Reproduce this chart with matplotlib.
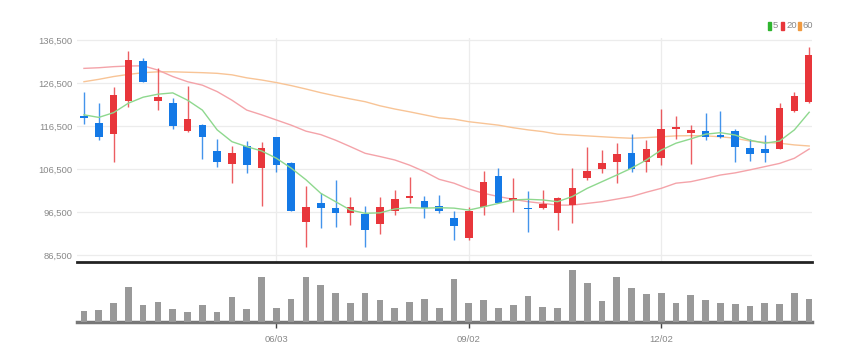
import matplotlib.pyplot as plt
from matplotlib.patches import Rectangle
import numpy as np

plt.rcParams['font.family'] = ['Liberation Sans', 'DejaVu Sans']

# weekly candles (won)
opens = [118800, 117300, 114600, 122200, 131600, 122200, 121900, 115300, 116700, 110700,
         107700, 111900, 106700, 113900, 108000, 94250, 98500, 97500, 96200, 96000,
         93700, 96800, 99700, 99100, 98000, 95200, 90500, 97600, 104900, 99300,
         97500, 97400, 96200, 98200, 104500, 106500, 108100, 110150, 108100, 109000,
         115700, 114800, 115400, 114400, 115300, 111300, 111150, 111150, 120050, 122000]
highs = [124300, 121800, 125500, 133900, 132200, 129900, 122900, 125900, 116900, 113500,
         111800, 113000, 112700, 114000, 108100, 102500, 100850, 103900, 99900, 98000,
         100100, 101600, 104600, 100300, 100450, 96800, 97700, 106000, 106700, 104350,
         101400, 101600, 100000, 106700, 111700, 110900, 112500, 114600, 113250, 120450,
         118900, 116700, 119450, 120050, 115700, 113400, 114400, 121800, 124500, 134900]
lows = [116900, 113200, 108200, 121000, 126700, 120200, 115700, 115200, 108800, 106900,
        103300, 105500, 98000, 105900, 96800, 88400, 92700, 93100, 93500, 88400,
        91400, 95800, 98500, 95000, 96200, 90000, 90000, 95800, 98500, 96600,
        91900, 97300, 92300, 93900, 104000, 105500, 103300, 105900, 105700, 107400,
        113500, 107600, 113200, 113600, 108100, 108400, 108100, 111100, 119800, 121800]
closes = [118300, 114000, 123700, 131850, 126800, 123300, 116500, 118100, 114000, 108100,
          110150, 107400, 111450, 107400, 96800, 97600, 97500, 96200, 97600, 92300,
          97600, 99500, 100200, 97400, 96700, 93300, 96800, 103550, 98650, 99800,
          97200, 98400, 99700, 102000, 106000, 108000, 110000, 106400, 111150, 115800,
          116300, 115600, 114000, 114000, 111550, 109900, 110300, 120750, 123550, 133000]

ma5 = [119100, 118500, 119600, 121800, 123200, 123900, 124200, 122500, 120200, 115600,
       112850, 111700, 110700, 109000, 106700, 104000, 100850, 98900, 96950, 96200,
       96300, 97200, 97500, 97400, 97500, 97400, 96950, 97700, 98500, 99300,
       99450, 99300, 98900, 100100, 102000, 103550, 105100, 106700, 108600, 110900,
       112500, 113500, 114600, 114950, 114400, 113200, 112500, 113000, 115600, 119700]
ma20 = [129900, 130050, 130300, 130450, 130500, 129500, 128000, 126800, 126000, 124500,
        122500, 120200, 119100, 117900, 116700, 115300, 114500, 113200, 111700, 110150,
        109400, 108600, 107400, 105900, 104100, 103200, 101850, 100850, 100100, 99450,
        98900, 98500, 98100, 98100, 98500, 98900, 99500, 100100, 101100, 102000,
        103200, 103550, 104300, 105100, 105600, 106300, 107050, 107800, 109000, 111150]
ma60 = [126800, 127350, 128000, 128500, 128900, 129100, 129100, 129000, 128900, 128750,
        128400, 127700, 127200, 126600, 125900, 125100, 124250, 123500, 122800, 122150,
        121200, 120450, 119800, 119100, 118400, 118100, 117500, 117100, 116700, 116100,
        115600, 115200, 114600, 114400, 114200, 114000, 113800, 113650, 113800, 114000,
        114200, 114250, 114200, 114000, 113650, 113000, 112700, 112500, 112100, 111850]

volumes = [32000, 37000, 59000, 107000, 52000, 62000, 39000, 29000, 52000, 29000,
           77000, 39000, 137000, 44000, 69000, 138000, 112000, 87000, 57000, 87000,
           67000, 42000, 62000, 69000, 42000, 132000, 57000, 67000, 44000, 52000,
           79000, 47000, 42000, 158000, 118000, 64000, 137000, 103000, 84000, 88000,
           59000, 82000, 67000, 59000, 54000, 49000, 59000, 54000, 87000, 69000]

date_ticks = [13, 26, 39]
date_labels = ['06/03', '09/02', '12/02']
price_ticks = [86500, 96500, 106500, 116500, 126500, 136500]

up_col = '#e8363b'
down_col = '#1479e6'
W, H = 862, 363

fig = plt.figure(figsize=(W / 100, H / 100), dpi=100)
ax = fig.add_axes([77 / W, 1 - 262 / H, (812 - 77) / W, (262 - 38) / H])
axv = fig.add_axes([77 / W, 1 - 322 / H, (812 - 77) / W, (322 - 265) / H])

x = np.arange(len(opens))
o = np.array(opens)
c = np.array(closes)
cols = [up_col if cc >= oo else down_col for oo, cc in zip(o, c)]

ax.vlines(x, lows, highs, colors=cols, linewidth=1, alpha=0.8, zorder=3)
body_bottom = np.minimum(o, c)
body_h = np.maximum(np.abs(c - o), 250)
ax.bar(x, body_h, bottom=body_bottom, width=0.52, color=cols, zorder=4)

ax.plot(x, ma60, color='#f8c496', lw=1.0, zorder=2)
ax.plot(x, ma20, color='#f4a3a9', lw=1.0, zorder=2)
ax.plot(x, ma5, color='#8ed88e', lw=1.0, zorder=5)

ax.set_xlim(-0.47, 49.19)
ax.set_ylim(86500 - 7 / 4.3 * 1000, 136500 + 2 / 4.3 * 1000)
ax.set_yticks(price_ticks)
ax.set_yticklabels([f'{v:,}' for v in price_ticks])
ax.set_xticks(date_ticks)
ax.set_xticklabels([])
ax.tick_params(axis='both', length=0, labelsize=6.8, colors='#888888', pad=3)
ax.grid(True, color='#ececec', lw=0.9, zorder=0)
for s in ['top', 'right', 'left']:
    ax.spines[s].set_visible(False)
ax.spines['bottom'].set_color('#222222')
ax.spines['bottom'].set_linewidth(2)

axv.bar(x, volumes, width=0.45, color='#999999', zorder=3)
axv.set_xlim(-0.47, 49.19)
axv.set_ylim(0, max(volumes) * 57 / 52)
axv.set_yticks([])
axv.set_xticks(date_ticks)
axv.set_xticklabels(date_labels)
axv.tick_params(axis='x', length=4, width=1, color='#444444', labelsize=6.8,
                labelcolor='#888888', pad=5)
for s in ['top', 'right', 'left']:
    axv.spines[s].set_visible(False)
axv.spines['bottom'].set_color('#777777')
axv.spines['bottom'].set_linewidth(2.5)

# legend at top right
leg = [('5', '#2fb52f', 768), ('20', '#e8363b', 781), ('60', '#f09a40', 798)]
for lab, col, px in leg:
    fig.patches.append(Rectangle((px / W, 1 - 30 / H), 3.5 / W, 8 / H,
                                 transform=fig.transFigure, color=col))
    fig.text((px + 5) / W, 1 - 26 / H, lab, fontsize=6.8, color='#888888',
             va='center', ha='left')

fig.savefig('out.png', dpi=100)
